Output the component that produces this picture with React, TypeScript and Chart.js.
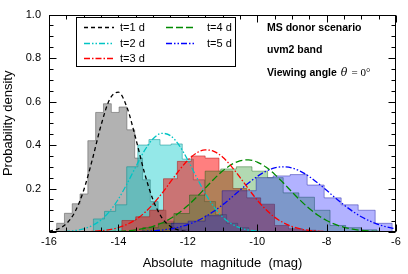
import React, { useEffect, useRef } from "react";
import { Chart, registerables } from "chart.js";
Chart.register(...registerables);

// ---------- data ----------
const magGrid = [
  -16, -15.75, -15.5, -15.25, -15, -14.75, -14.5, -14.25, -14, -13.75, -13.5,
  -13.25, -13, -12.75, -12.5, -12.25, -12, -11.75, -11.5, -11.25, -11, -10.75,
  -10.5, -10.25, -10, -9.75, -9.5, -9.25, -9, -8.75, -8.5, -8.25, -8, -7.75,
  -7.5, -7.25, -7, -6.75, -6.5, -6.25, -6,
];

const curveT1 = [
  0.0039, 0.0133, 0.0382, 0.0931, 0.192, 0.334, 0.491, 0.611, 0.643, 0.572, 0.43,
  0.273, 0.147, 0.0666, 0.0256, 0.0083, 0.0023, 0.0005, null, null, null, null,
  null, null, null, null, null, null, null, null, null, null, null, null,
  null, null, null, null, null, null, null,
];
const curveT2 = [
  0.0004, 0.0011, 0.0028, 0.0066, 0.0146, 0.0296, 0.0554, 0.0955, 0.1517, 0.2222, 0.3,
  0.374, 0.429, 0.454, 0.443, 0.399, 0.331, 0.253, 0.178, 0.116, 0.0695, 0.0384,
  0.0196, 0.0092, 0.004, 0.0016, 0.0006, null, null, null, null, null, null, null,
  null, null, null, null, null, null, null,
];
const curveT3 = [
  0.0, 0.0001, 0.0002, 0.0006, 0.0013, 0.0028, 0.0058, 0.0112, 0.0204, 0.0351, 0.0572,
  0.0882, 0.1285, 0.177, 0.2304, 0.2835, 0.33, 0.363, 0.3776, 0.3713, 0.3451, 0.3033,
  0.252, 0.198, 0.147, 0.1032, 0.0685, 0.043, 0.0255, 0.0143, 0.0076, 0.0038, 0.0018, 0.0008,
  0.0003, 0.0001, 0.0, 0.0, 0.0, 0.0, 0.0,
];
const curveT4 = [
  0.0, 0.0, 0.0, 0.0001, 0.0002, 0.0004, 0.0007, 0.0015, 0.0029, 0.0053, 0.0095,
  0.0162, 0.0264, 0.0413, 0.0618, 0.0887, 0.1217, 0.16, 0.2014, 0.2427, 0.2801, 0.3095,
  0.3274, 0.3317, 0.3218, 0.2989, 0.2658, 0.2264, 0.1846, 0.1442, 0.1078, 0.0772, 0.0529, 0.0347,
  0.0218, 0.0131, 0.0076, 0.0042, 0.0022, 0.0011, 0.0005,
];
const curveT5 = [
  0.0, 0.0, 0.0, 0.0, 0.0, 0.0001, 0.0001, 0.0003, 0.0005, 0.0009, 0.0017,
  0.003, 0.0053, 0.0089, 0.0145, 0.0227, 0.0343, 0.0499, 0.0702, 0.0952, 0.1246, 0.1573,
  0.1916, 0.2252, 0.2553, 0.2792, 0.2947, 0.3, 0.2947, 0.2792, 0.2553, 0.2252, 0.1916, 0.1573,
  0.1246, 0.0952, 0.0702, 0.0499, 0.0343, 0.0227, 0.0145,
];

// histogram bin edges and heights
const histT1Edges = [
  -15.78, -15.555, -15.33, -15.105, -14.88, -14.655, -14.43, -14.205, -13.98,
  -13.755, -13.53, -13.305, -13.08, -12.855, -12.63, -12.405, -12.18, -11.955,
];
const histT1Heights = [
  0.04, 0.086, 0.13, 0.175, 0.42, 0.55, 0.59, 0.55, 0.575, 0.47, 0.34, 0.24, 0.14,
  0.1, 0.05, 0.02, 0.01,
];
const histT2Edges = [
  -14.72, -14.4, -14.08, -13.76, -13.44, -13.12, -12.8, -12.48, -12.16, -11.84,
  -11.52, -11.2, -10.88, -10.56, -10.24,
];
const histT2Heights = [
  0.06, 0.095, 0.125, 0.3, 0.4, 0.425, 0.4, 0.405, 0.335, 0.24, 0.14, 0.08, 0.04, 0.02,
];
const histT3Edges = [
  -13.9, -13.5, -13.1, -12.7, -12.3, -11.9, -11.5, -11.1, -10.7, -10.3, -9.9, -9.5,
  -9.1, -8.7, -8.3,
];
const histT3Heights = [
  0.053, 0.07, 0.1, 0.245, 0.325, 0.35, 0.34, 0.28, 0.2, 0.157, 0.128, 0.03, 0.015, 0.008,
];
const histT4Edges = [
  -13.3, -12.85, -12.4, -11.95, -11.5, -11.05, -10.6, -10.15, -9.7, -9.25, -8.8,
  -8.35, -7.9, -7.45, -7.0, -6.55,
];
const histT4Heights = [
  0.02, 0.04, 0.085, 0.17, 0.28, 0.29, 0.3, 0.28, 0.25, 0.18, 0.16, 0.1, 0.03, 0.02, 0.01,
];
const histT5Edges = [
  -12.48, -11.99, -11.5, -11.01, -10.52, -10.03, -9.54, -9.05, -8.56, -8.07, -7.58,
  -7.09, -6.6, -6.11,
];
const histT5Heights = [
  0.04, 0.05, 0.075, 0.19, 0.19, 0.25, 0.258, 0.264, 0.216, 0.157, 0.125, 0.1, 0.04,
];

const legendLabels = ["t=1 d", "t=2 d", "t=3 d", "t=4 d", "t=5 d"];
const annotationLines = ["MS donor scenario", "uvm2 band", "Viewing angle"];
const xTitle = "Absolute  magnitude  (mag)";
const yTitle = "Probability density";

// ---------- styles ----------
const FONT = "'Liberation Sans', Arial, Helvetica, sans-serif";
const curveStyles = [
  { color: "#000000", dash: [4, 3] },
  { color: "#00c4c4", dash: [6, 2, 1.5, 2, 1.5, 2] },
  { color: "#ff0000", dash: [6, 2, 1.5, 2] },
  { color: "#008a00", dash: [7, 3] },
  { color: "#0000ff", dash: [6, 2, 1.5, 2, 1.5, 2] },
];
const histStyles = [
  { fill: "rgba(95,95,95,0.48)", edge: "rgba(90,90,90,0.55)" },
  { fill: "rgba(0,200,200,0.42)", edge: "rgba(0,140,140,0.5)" },
  { fill: "rgba(255,0,0,0.5)", edge: "rgba(170,0,0,0.45)" },
  { fill: "rgba(0,130,0,0.3)", edge: "rgba(0,90,0,0.4)" },
  { fill: "rgba(0,0,255,0.3)", edge: "rgba(0,0,150,0.4)" },
];

function stepData(edges: number[], heights: number[]) {
  const pts: { x: number; y: number }[] = [{ x: edges[0], y: 0 }];
  heights.forEach((h, i) => pts.push({ x: edges[i], y: h }));
  pts.push({ x: edges[edges.length - 1], y: 0 });
  return pts;
}

const decorPlugin = {
  id: "decor",
  afterDraw(chart: any) {
    const { ctx, chartArea: a, scales } = chart;
    const xs = scales.x;
    const ys = scales.y;
    ctx.save();
    ctx.strokeStyle = "#000";
    ctx.lineWidth = 1;
    const L = Math.round(a.left) + 0.5;
    const R = Math.round(a.right) - 0.5;
    const T = Math.round(a.top) + 0.5;
    const B = Math.round(a.bottom) - 0.5;
    // ticks (inward)
    ctx.beginPath();
    for (let k = 0; k <= 20; k++) {
      const v = -16 + k * 0.5;
      const px = Math.round(xs.getPixelForValue(v)) + 0.5;
      const len = k % 4 === 0 ? 7 : 4;
      ctx.moveTo(px, B);
      ctx.lineTo(px, B - len);
      ctx.moveTo(px, T);
      ctx.lineTo(px, T + len);
    }
    for (let k = 0; k <= 20; k++) {
      const v = k * 0.05;
      const py = Math.round(ys.getPixelForValue(v)) + 0.5;
      const len = k % 4 === 0 ? 7 : 4;
      ctx.moveTo(L, py);
      ctx.lineTo(L + len, py);
      ctx.moveTo(R, py);
      ctx.lineTo(R - len, py);
    }
    ctx.stroke();
    ctx.strokeRect(L, T, R - L, B - T);

    // legend box
    ctx.fillStyle = "#fff";
    ctx.fillRect(76.5, 17.5, 159, 49);
    ctx.strokeRect(76.5, 17.5, 159, 49);
    const rowsY = [27, 43, 58];
    ctx.font = `11px ${FONT}`;
    ctx.textBaseline = "middle";
    ctx.textAlign = "left";
    legendLabels.forEach((lab, i) => {
      const col = i < 3 ? 0 : 1;
      const row = i < 3 ? i : i - 3;
      const x0 = col === 0 ? 84 : 166;
      const y0 = rowsY[row] + 0.5;
      ctx.save();
      ctx.strokeStyle = curveStyles[i].color;
      ctx.lineWidth = 1.3;
      ctx.setLineDash(curveStyles[i].dash);
      ctx.beginPath();
      ctx.moveTo(x0, y0);
      ctx.lineTo(x0 + 30, y0);
      ctx.stroke();
      ctx.restore();
      ctx.fillStyle = "#000";
      ctx.fillText(lab, col === 0 ? 120 : 207, rowsY[row] + 0.5);
    });

    // annotations
    ctx.fillStyle = "#000";
    ctx.font = `bold 10.5px ${FONT}`;
    ctx.fillText(annotationLines[0], 267, 28);
    ctx.fillText(annotationLines[1], 267, 50);
    ctx.fillText(annotationLines[2], 267, 73);
    const w = ctx.measureText(annotationLines[2]).width;
    ctx.font = `italic 11px 'DejaVu Serif', 'Liberation Serif', serif`;
    ctx.fillText("θ", 267 + w + 4, 73);
    const wt = ctx.measureText("θ").width;
    ctx.font = `11px 'Liberation Serif', 'DejaVu Serif', serif`;
    ctx.fillText("= 0°", 267 + w + 4 + wt + 4, 73);

    // axis titles
    ctx.font = `13px ${FONT}`;
    ctx.textAlign = "center";
    ctx.fillText(xTitle, (a.left + a.right) / 2, 263);
    ctx.save();
    ctx.translate(8, (a.top + a.bottom) / 2);
    ctx.rotate(-Math.PI / 2);
    ctx.fillText(yTitle, 0, 0);
    ctx.restore();
    ctx.restore();
  },
};

export default function App() {
  const ref = useRef<HTMLCanvasElement>(null);
  useEffect(() => {
    document.body.style.margin = "0";
    const canvas = ref.current!;
    const curves = [curveT1, curveT2, curveT3, curveT4, curveT5];
    const hists = [
      [histT1Edges, histT1Heights],
      [histT2Edges, histT2Heights],
      [histT3Edges, histT3Heights],
      [histT4Edges, histT4Heights],
      [histT5Edges, histT5Heights],
    ];
    const curveDatasets = curves.map((c, i) => ({
      label: legendLabels[i],
      data: magGrid.map((x, j) => ({ x, y: c[j] })),
      borderColor: curveStyles[i].color,
      borderDash: curveStyles[i].dash,
      borderWidth: 1.3,
      pointRadius: 0,
      fill: false,
      cubicInterpolationMode: "monotone",
      spanGaps: false,
      order: 0,
    }));
    // later histograms are drawn on top of earlier ones
    const histDatasets = hists.map((h, i) => ({
      label: "hist " + legendLabels[i],
      data: stepData(h[0] as number[], h[1] as number[]),
      stepped: "before",
      fill: "origin",
      backgroundColor: histStyles[i].fill,
      borderColor: histStyles[i].edge,
      borderWidth: 1,
      pointRadius: 0,
      order: 10 - i,
    }));
    const chart = new Chart(canvas, {
      type: "line",
      data: { datasets: [...curveDatasets, ...histDatasets] as any },
      options: {
        animation: false,
        responsive: false,
        maintainAspectRatio: false,
        layout: { padding: { top: 8, right: 12, left: 0, bottom: 0 } },
        plugins: { legend: { display: false }, tooltip: { enabled: false } },
        scales: {
          x: {
            type: "linear",
            min: -16,
            max: -6,
            grid: { display: false, drawTicks: false },
            border: { display: false },
            ticks: {
              stepSize: 2,
              color: "#000",
              font: { family: FONT, size: 11 },
              padding: 3,
              maxRotation: 0,
            },
            afterFit: (s: any) => {
              s.height = 42;
            },
          },
          y: {
            min: 0,
            max: 1,
            grid: { display: false, drawTicks: false },
            border: { display: false },
            ticks: {
              stepSize: 0.2,
              color: "#000",
              font: { family: FONT, size: 11 },
              padding: 8,
              callback: (v: any) => (Math.abs(v) < 1e-9 ? "" : Number(v).toFixed(1)),
            },
            afterFit: (s: any) => {
              s.width = 49;
            },
          },
        },
      } as any,
      plugins: [decorPlugin],
    });
    return () => chart.destroy();
  }, []);
  return (
    <div style={{ width: 408, height: 274 }}>
      <canvas ref={ref} width={408} height={274} style={{ display: "block", width: 408, height: 274 }} />
    </div>
  );
}
